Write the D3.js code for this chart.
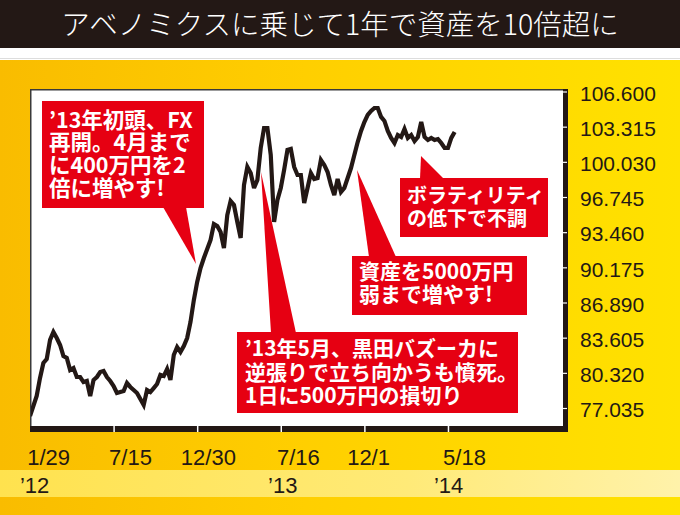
<!DOCTYPE html>
<html><head><meta charset="utf-8">
<script src="https://cdn.jsdelivr.net/npm/d3@7"></script>
<style>body{margin:0;background:#fff;} svg{display:block;}</style>
</head><body>
<svg id="c" width="680" height="515"></svg>
<script>
// USD/JPY weekly closes
const weeklyClose = [
76.29, 77.22, 78.16, 79.84, 81.24, 81.61, 83.39, 84.13, 83.57, 82.92,
81.89, 81.71, 80.58, 80.77, 79.93, 79.93, 79.46, 79.56, 78.16, 79.65,
79.93, 80.40, 80.49, 79.93, 79.56, 79.09, 78.44, 78.53, 78.62, 79.37,
79.00, 78.72, 78.44, 77.88, 77.32, 78.72, 78.53, 78.90, 79.28, 80.12,
80.02, 80.68, 79.65, 81.99, 82.73, 82.27, 82.83, 83.57, 85.07, 87.12,
88.81, 90.11, 91.05, 91.89, 92.73, 94.22, 94.04, 93.48, 91.98, 95.06,
96.37, 96.00, 94.41, 92.92, 97.87, 99.55, 98.99, 97.59, 98.33, 101.32,
103.19, 103.19, 100.67, 94.41, 96.47, 97.59, 99.27, 101.14, 101.23, 99.55,
98.80, 98.80, 96.19, 97.59, 98.99, 98.43, 98.52, 100.20, 99.74, 99.08,
97.87, 96.93, 98.43, 97.21, 97.59, 98.52, 99.45, 100.67, 101.88, 102.91,
103.75, 104.41, 104.78, 105.06, 105.06, 104.22, 103.85, 102.91, 102.26, 101.79,
102.54, 102.35, 103.10, 102.26, 102.54, 101.98, 102.35, 103.75, 102.35, 102.07,
102.26, 102.07, 102.16, 101.79, 101.32, 101.32, 102.26, 102.82
];
const yTicks = [77.035, 80.320, 83.605, 86.890, 90.175, 93.460, 96.745, 100.030, 103.315, 106.600];
const xSeparators = [25, 50, 75, 100, 125];
const xLabelWeeks = [5.4, 29.9, 53.2, 80.1, 101.1, 129.8];
const xLabels = ["1/29", "7/15", "12/30", "7/16", "12/1", "5/18"];
const yearWeeks = [-3, 71.2, 120.8];
const yearLabels = ["’12", "’13", "’14"];
const titleText = "アベノミクスに乗じて1年で資産を10倍超に";
const callouts = [
  {lines: ["’13年初頭、FX", "再開。4月まで", "に400万円を2", "倍に増やす!"], size: 21.5},
  {lines: ["’13年5月、黒田バズーカに", "逆張りで立ち向かうも憤死。", "1日に500万円の損切り"], size: 21},
  {lines: ["資産を5000万円", "弱まで増やす!"], size: 21},
  {lines: ["ボラティリティ", "の低下で不調"], size: 20}
];

const svg = d3.select("#c");
const W = 680, H = 515;
const ink = "#231815", red = "#e60012";
const jp = "'Noto Sans CJK JP','Noto Sans',sans-serif";
const num = "'Liberation Sans',Arial,'DejaVu Sans',sans-serif";

const defs = svg.append("defs");
const bg = defs.append("linearGradient").attr("id", "bg").attr("x1", 0).attr("x2", 1).attr("y1", 0).attr("y2", 0);
bg.append("stop").attr("offset", "0%").attr("stop-color", "#f9bc00");
bg.append("stop").attr("offset", "45%").attr("stop-color", "#ffcf00");
bg.append("stop").attr("offset", "100%").attr("stop-color", "#ffe200");
const band = defs.append("linearGradient").attr("id", "band").attr("x1", 0).attr("x2", 1).attr("y1", 0).attr("y2", 0);
band.append("stop").attr("offset", "0%").attr("stop-color", "#ffe24e");
band.append("stop").attr("offset", "60%").attr("stop-color", "#ffea78");
band.append("stop").attr("offset", "100%").attr("stop-color", "#fff2aa");
defs.append("clipPath").attr("id", "plotclip").append("rect")
  .attr("x", 31).attr("y", 90).attr("width", 532).attr("height", 336);

// backgrounds
svg.append("rect").attr("width", W).attr("height", H).attr("fill", "#fff");
svg.append("rect").attr("x", 0).attr("y", 60).attr("width", W).attr("height", H - 60).attr("fill", "url(#bg)");
svg.append("rect").attr("x", 0).attr("y", 470).attr("width", W).attr("height", 27).attr("fill", "url(#band)");
svg.append("line").attr("x1", 0).attr("x2", W).attr("y1", 58.5).attr("y2", 58.5).attr("stroke", "#ddd").attr("stroke-width", 1);

// title bar
svg.append("rect").attr("x", 0).attr("y", 0).attr("width", W).attr("height", 48).attr("fill", ink);
svg.append("text").attr("x", 340).attr("y", 35).attr("text-anchor", "middle")
  .attr("fill", "#fff").attr("font-family", jp).attr("font-weight", 300)
  .attr("font-size", 28.5).text(titleText);

// scales
const x = d3.scaleLinear().domain([0, 160]).range([30, 565]);
const y = d3.scaleLinear().domain([77.035, 106.6]).range([408, 91.5]);

// plot area
svg.append("rect").attr("x", 30.75).attr("y", 89.75).attr("width", 533).attr("height", 337)
  .attr("fill", "#fff").attr("stroke", "#3a3a3a").attr("stroke-width", 1.5);

// price line
svg.append("path").datum(weeklyClose)
  .attr("clip-path", "url(#plotclip)")
  .attr("fill", "none").attr("stroke", ink).attr("stroke-width", 4.2)
  .attr("stroke-linejoin", "miter").attr("stroke-miterlimit", 3)
  .attr("d", d3.line().x((d, i) => x(i)).y(d => y(d)));

// right axis bar + ticks
svg.append("rect").attr("x", 563).attr("y", 89).attr("width", 5).attr("height", 343).attr("fill", ink);
const yAxis = svg.append("g").attr("transform", "translate(561,0)")
  .call(d3.axisRight(y).tickValues(yTicks).tickSize(6).tickPadding(13).tickFormat(d3.format(".3f")));
yAxis.select(".domain").remove();
yAxis.selectAll(".tick line").attr("stroke", "#fff").attr("stroke-width", 1.2);
yAxis.selectAll(".tick text").attr("fill", ink).attr("font-family", num).attr("font-size", 21).attr("dy", "0.42em");

// bottom axis bar + separators
svg.append("rect").attr("x", 30).attr("y", 426).attr("width", 538).attr("height", 6).attr("fill", ink);
const sep = svg.append("g").attr("transform", "translate(0,426)")
  .call(d3.axisBottom(x).tickValues(xSeparators).tickSize(6).tickFormat(""));
sep.select(".domain").remove();
sep.selectAll(".tick line").attr("stroke", "#fff").attr("stroke-width", 1.5);

const xl = svg.append("g").attr("transform", "translate(0,432)")
  .call(d3.axisBottom(x).tickValues(xLabelWeeks).tickSize(0).tickPadding(17)
    .tickFormat((d, i) => xLabels[i]));
xl.select(".domain").remove();
xl.selectAll(".tick text").attr("fill", ink).attr("font-family", num).attr("font-size", 22);

svg.append("g").selectAll("text").data(yearLabels).join("text")
  .attr("x", (d, i) => x(yearWeeks[i])).attr("y", 493)
  .attr("fill", ink).attr("font-family", num).attr("font-size", 22).text(d => d);

// callouts
const boxes = [
  {x: 42, y: 101, w: 162, h: 107, tx: 49, ty: 127.5, lh: 22.7, ptr: [[163, 207], [186, 207], [196, 264]]},
  {x: 237, y: 332, w: 281, h: 81, tx: 245, ty: 356, lh: 23.5, ptr: [[271, 333], [296, 333], [261, 172]]},
  {x: 352, y: 256, w: 175, h: 59, tx: 359, ty: 279, lh: 23, ptr: [[369, 257], [396, 257], [357, 170]]},
  {x: 400, y: 178, w: 148, h: 59, tx: 407, ty: 203, lh: 22.5, ptr: [[420, 179], [444, 179], [421, 156]]}
];
const cg = svg.append("g");
boxes.forEach((b, k) => {
  cg.append("polygon").attr("points", b.ptr.map(p => p.join(",")).join(" ")).attr("fill", red);
  cg.append("rect").attr("x", b.x).attr("y", b.y).attr("width", b.w).attr("height", b.h).attr("fill", red);
  const t = cg.append("text").attr("x", b.tx).attr("y", b.ty)
    .attr("fill", "#fff").attr("font-family", jp).attr("font-weight", 700)
    .attr("font-size", callouts[k].size);
  t.selectAll("tspan").data(callouts[k].lines).join("tspan")
    .attr("x", b.tx).attr("dy", (d, i) => i === 0 ? 0 : b.lh).text(d => d);
});
</script>
</body></html>
